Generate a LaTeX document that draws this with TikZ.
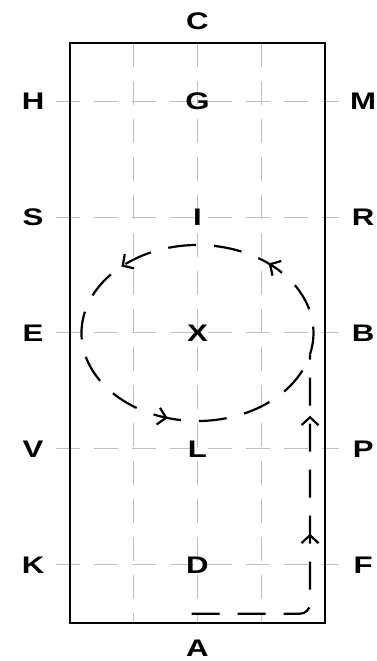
\documentclass[tikz,border=0pt]{standalone}
\usepackage{fontspec}
\setmainfont{Liberation Sans}
\newfontfamily\arenafont{Liberation Sans}[FakeStretch=1.3]
\usetikzlibrary{arrows.meta,decorations.markings,calc}

\begin{document}
\begin{tikzpicture}[x=31.875pt,y=58pt,
    >={Straight Barb[length=4pt,width=8.5pt]},
    letter/.style={font=\arenafont\fontsize{12}{14}\selectfont\bfseries,inner sep=0pt},
    gridline/.style={gray!50,line width=0.5pt,dash pattern=on 12pt off 7pt},
    ride/.style={line width=1.1pt,dash pattern=on 14pt off 9pt}]
  \useasboundingbox (-1.098,-0.328) rectangle (4.816,5.371);
  % quarter lines and letter lines
  \foreach \x in {1,2,3}
    \draw[gridline] (\x,5) -- (\x,0);
  \foreach \y in {0.5,1.5,...,4.5}
    \draw[gridline] (-0.22,\y) -- (4.22,\y);
  \draw[line width=1.3pt] (0,0) rectangle (4,5);
  % letters
  \node[letter] (C) at (2,5.19) {C};
  \node[letter] (A) at (2,-0.22) {A};
  \foreach \y/\l/\m/\r in {4.5/H/G/M,3.5/S/I/R,2.5/E/X/B,1.5/V/L/P,0.5/K/D/F}{
    \node[letter] (\l) at (-0.58,\y) {\l};
    \node[letter] (\m) at (2,\y) {\m};
    \node[letter] (\r) at (4.6,\y) {\r};
  }
  % the ride: up the track, then the circle at X
  \coordinate (start) at (1.91,0.08);
  \coordinate (join) at ($(X)+(-14:58pt and 44pt)$);
  \draw[ride,rounded corners=5pt,postaction={decorate},
    decoration={markings,
      mark=at position 97pt with {\arrow{>}},
      mark=at position 156pt with {\arrow{>}}}]
    (start) -| (join);
  \draw[ride,postaction={decorate},
    decoration={markings,
      mark=at position 0.168 with {\arrow{>}},
      mark=at position 0.408 with {\arrow{>}},
      mark=at position 0.737 with {\arrow{>}}}]
    (join) arc[start angle=-14,delta angle=360,x radius=58pt,y radius=44pt];
\end{tikzpicture}
\end{document}
